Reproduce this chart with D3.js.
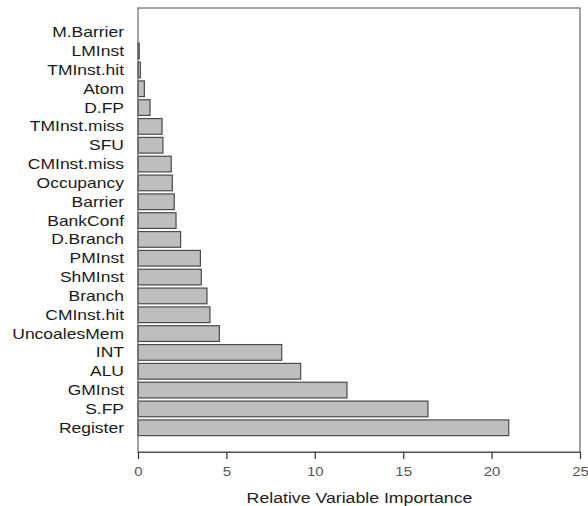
<!DOCTYPE html>
<html><head><meta charset="utf-8">
<script src="https://cdn.jsdelivr.net/npm/d3@7"></script>
<style>body{margin:0;background:#fff}svg{display:block}</style>
</head><body>
<script>
const categories = ["M.Barrier","LMInst","TMInst.hit","Atom","D.FP","TMInst.miss","SFU","CMInst.miss","Occupancy","Barrier","BankConf","D.Branch","PMInst","ShMInst","Branch","CMInst.hit","UncoalesMem","INT","ALU","GMInst","S.FP","Register"];
const values = [0.0,0.07,0.13,0.36,0.68,1.36,1.41,1.88,1.94,2.05,2.15,2.41,3.53,3.58,3.90,4.07,4.60,8.13,9.20,11.82,16.40,20.97];
const xTicks = [0,5,10,15,20,25];
const xTitle = "Relative Variable Importance";

const W=588,H=506;
const L=138,R=580,T=8,B=452;
const sx=1.25;
const svg=d3.select("body").append("svg").attr("width",W).attr("height",H);
const x=d3.scaleLinear().domain([0,25]).range([L,R]);
const y=d3.scaleBand().domain(categories).range([T,B]).paddingInner(1/6).paddingOuter(0.87);

svg.append("g").selectAll("rect").data(categories).join("rect")
  .attr("x",x(0)).attr("y",d=>y(d))
  .attr("width",(d,i)=>Math.max(0,x(values[i])-x(0)))
  .attr("height",y.bandwidth())
  .attr("fill","#bebebe").attr("stroke","#4a4a4a").attr("stroke-width",1.2);

svg.append("rect").attr("x",L).attr("y",T).attr("width",R-L).attr("height",B-T)
  .attr("fill","none").attr("stroke","#6a6a6a").attr("stroke-width",1.2);

svg.append("g").selectAll("text").data(categories).join("text")
  .attr("transform",d=>`translate(124,${y(d)+y.bandwidth()/2+5}) scale(${sx},1)`)
  .attr("text-anchor","end").attr("font-family","Liberation Sans, Arial, sans-serif")
  .attr("font-size",14).attr("fill","#1a1a1a").text(d=>d);

const ax=svg.append("g").attr("transform",`translate(0,${B})`)
  .call(d3.axisBottom(x).tickValues(xTicks).tickSize(7).tickSizeOuter(0).tickFormat(d3.format("d")));
ax.select(".domain").attr("stroke","#555").attr("stroke-width",1.2);
ax.selectAll(".tick line").attr("stroke","#333").attr("stroke-width",1.2);
ax.selectAll(".tick text").attr("font-family","Liberation Sans, Arial, sans-serif")
  .attr("font-size",12).attr("fill","#555").attr("y",0).attr("dy",0)
  .attr("transform",`translate(0,24) scale(${sx},1)`);

svg.append("text").attr("transform",`translate(${(L+R)/2+0.5},503) scale(1.18,1)`)
  .attr("text-anchor","middle").attr("font-family","Liberation Sans, Arial, sans-serif")
  .attr("font-size",15).attr("fill","#222").text(xTitle);
</script>
</body></html>
